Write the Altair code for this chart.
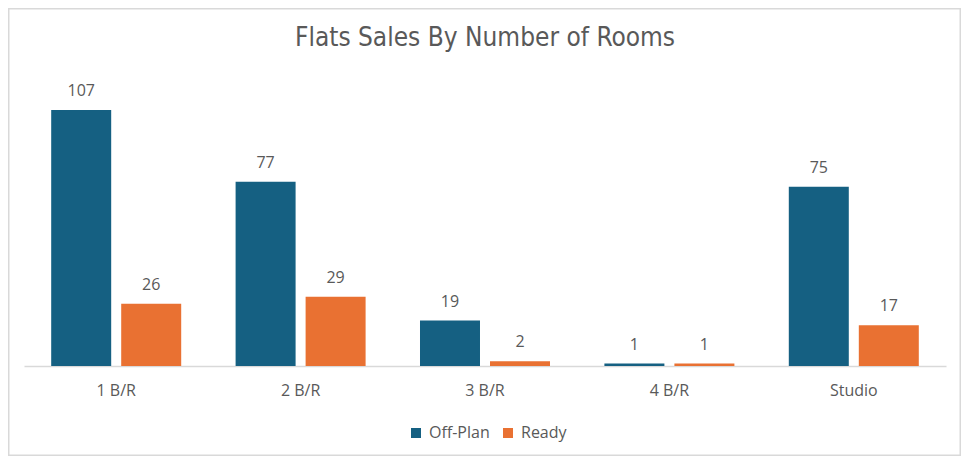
import altair as alt
import pandas as pd

categories = ["1 B/R", "2 B/R", "3 B/R", "4 B/R", "Studio"]
series = ["Off-Plan", "Ready"]
off_plan = [107, 77, 19, 1, 75]
ready = [26, 29, 2, 1, 17]
colors = ["#156082", "#E97132"]

rows = []
for i, c in enumerate(categories):
    rows.append({"Rooms": c, "Type": series[0], "Count": off_plan[i]})
    rows.append({"Rooms": c, "Type": series[1], "Count": ready[i]})
df = pd.DataFrame(rows)

W, H = 922, 287
PL, PT, PR, PB = 16, 71, 15, 90

label_font = "Open Sans"
grey = "#595959"

x = alt.X("Rooms:N", sort=categories,
          scale=alt.Scale(paddingInner=0.295, paddingOuter=0.1475),
          axis=alt.Axis(title=None, labelAngle=0, ticks=False, domainColor="#D9D9D9",
                        domainWidth=1.5, labelFont=label_font, labelFontSize=16,
                        labelColor=grey, labelPadding=16, grid=False))
xo = alt.XOffset("Type:N", sort=series, scale=alt.Scale(paddingInner=0.143))
y = alt.Y("Count:Q", scale=alt.Scale(domain=[0, 120]), axis=None)

bars = alt.Chart(df).mark_bar().encode(
    x=x, xOffset=xo, y=y,
    color=alt.Color("Type:N", sort=series,
                    scale=alt.Scale(domain=series, range=colors),
                    legend=alt.Legend(title=None, orient="none", direction="horizontal",
                                      legendX=384, legendY=346, symbolType="square",
                                      symbolSize=100, symbolStrokeWidth=0,
                                      labelFont=label_font, labelFontSize=16,
                                      labelColor=grey, columnPadding=10, labelOffset=5)),
)

labels = alt.Chart(df).mark_text(baseline="bottom", dy=-11, font=label_font,
                                 fontSize=16, color=grey).encode(
    x=alt.X("Rooms:N", sort=categories), xOffset=xo, y=y, text="Count:Q")

frame = alt.Chart(pd.DataFrame({"a": [0]})).mark_rect(
    fill=None, stroke="#D9D9D9", strokeWidth=1.5).encode(
    x=alt.value(-PL + 0.75), x2=alt.value(W + PR - 0.75),
    y=alt.value(-PT + 0.75), y2=alt.value(H + PB - 0.75))

chart = alt.layer(frame, bars, labels).properties(
    width=W, height=H,
    background="white",
    autosize=alt.AutoSizeParams(type="none"),
    padding={"left": PL, "top": PT, "right": PR, "bottom": PB},
    title=alt.TitleParams("Flats Sales By Number of Rooms",
                          font="'DejaVu Sans Condensed', Roboto, sans-serif",
                          fontSize=26, fontWeight="normal", color=grey,
                          anchor="middle", offset=0, dy=43),
).configure_view(stroke=None)

chart.save("out.html", embed_options={"renderer": "svg", "actions": False})
